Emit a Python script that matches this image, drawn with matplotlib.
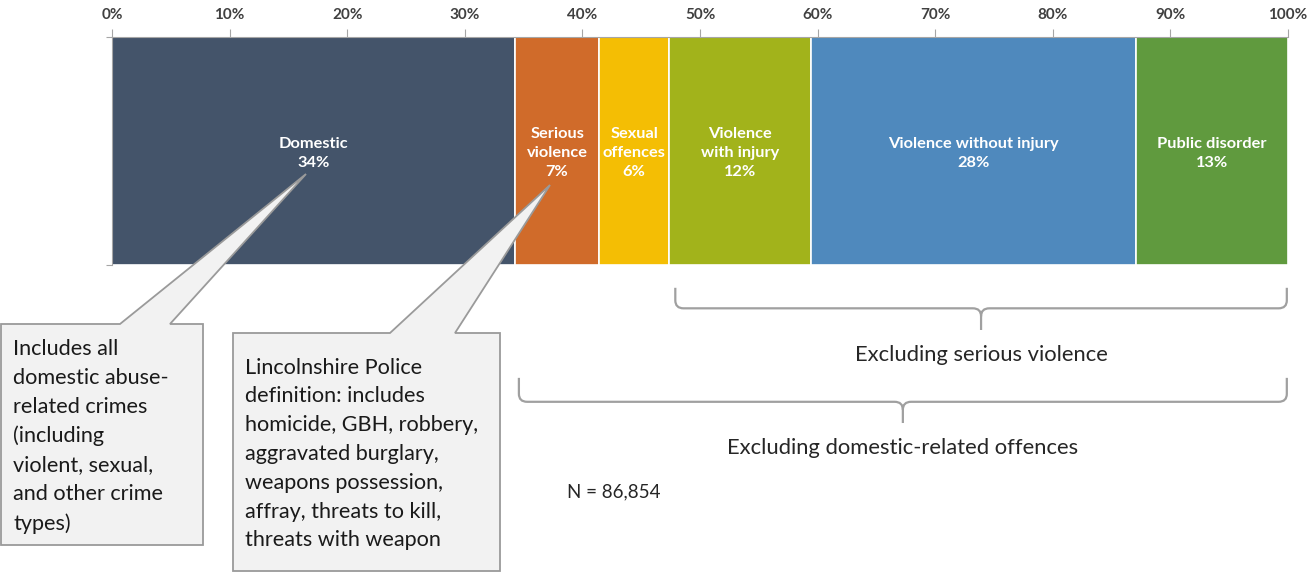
import numpy as np
import matplotlib.pyplot as plt
from matplotlib.path import Path
from matplotlib.patches import PathPatch, Polygon
import matplotlib.transforms as mtransforms

plt.rcParams['font.family'] = ['Lato', 'DejaVu Sans']

# data
categories = ['Domestic', 'Serious\nviolence', 'Sexual\noffences', 'Violence\nwith injury',
              'Violence without injury', 'Public disorder']
shares = [34.3, 7.1, 6.0, 12.0, 27.7, 12.9]
share_labels = ['34%', '7%', '6%', '12%', '28%', '13%']
colors = ['#44546a', '#d06b2a', '#f4be04', '#a2b31b', '#4f89bd', '#609a3e']
n_total = '86,854'

box_notes = ['Includes all\ndomestic abuse-\nrelated crimes\n(including\nviolent, sexual,\nand other crime\ntypes)',
             'Lincolnshire Police\ndefinition: includes\nhomicide, GBH, robbery,\naggravated burglary,\nweapons possession,\naffray, threats to kill,\nthreats with weapon']

W, H = 1310, 572
fig = plt.figure(figsize=(W / 100, H / 100), dpi=100)
ax = fig.add_axes([112 / W, 1 - 265 / H, 1176 / W, 228 / H])

lefts = np.concatenate([[0], np.cumsum(shares)[:-1]])
ax.barh(0, shares, left=lefts, height=1, color=colors, edgecolor='white', linewidth=1.2)
for l, s, c, p in zip(lefts, shares, categories, share_labels):
    ax.text(l + s / 2, -0.01, c + '\n' + p, ha='center', va='center', color='white',
            fontsize=11.8, fontweight='bold', linespacing=1.45)

ax.set_xlim(0, 100)
ax.set_ylim(-0.5, 0.5)
ax.xaxis.tick_top()
ax.set_xticks(range(0, 101, 10))
ax.set_xticklabels([f'{v}%' for v in range(0, 101, 10)], fontsize=11, fontweight='bold', color='#404040')
ax.tick_params(axis='x', length=6, color='#a6a6a6', pad=5)
ax.set_yticks([-0.5, 0.5])
ax.set_yticklabels([])
ax.tick_params(axis='y', length=4, color='#a6a6a6')
for side in ['bottom', 'right']:
    ax.spines[side].set_visible(False)
for side in ['top', 'left']:
    ax.spines[side].set_color('#a6a6a6')

# brackets under the bar: x in data, y in axes fraction
trans = mtransforms.blended_transform_factory(ax.transData, ax.transAxes)


def bracket(x0, x1, top, mid, bot, label, ty):
    xc = (x0 + x1) / 2
    rx, ry = 0.7, 0.035
    verts = [(x0, top), (x0, mid + ry), (x0, mid), (x0 + rx, mid), (xc - rx, mid),
             (xc, mid), (xc, mid - ry), (xc, bot),
             (xc, mid - ry), (xc, mid), (xc + rx, mid), (x1 - rx, mid),
             (x1, mid), (x1, mid + ry), (x1, top)]
    codes = [Path.MOVETO, Path.LINETO, Path.CURVE3, Path.CURVE3, Path.LINETO,
             Path.CURVE3, Path.CURVE3, Path.LINETO,
             Path.MOVETO, Path.CURVE3, Path.CURVE3, Path.LINETO,
             Path.CURVE3, Path.CURVE3, Path.LINETO]
    ax.add_patch(PathPatch(Path(verts, codes), transform=trans, fill=False,
                           edgecolor='#a0a0a0', linewidth=1.6, clip_on=False))
    ax.text(xc, ty, label, transform=trans, ha='center', va='center', fontsize=15.8, color='#262626')


bracket(lefts[3] + 0.5, 99.9, -0.10, -0.19, -0.285, 'Excluding serious violence', -0.395)
bracket(lefts[1] + 0.3, 99.9, -0.495, -0.60, -0.693, 'Excluding domestic-related offences', -0.803)
ax.text(38.7, -0.995, 'N = ' + n_total, transform=trans, ha='left', va='center', fontsize=13.5, color='#262626')

# callout boxes (overlay in pixel space)
ov = fig.add_axes([0, 0, 1, 1], zorder=5)
ov.set_xlim(0, W)
ov.set_ylim(H, 0)
ov.axis('off')

callouts = [
    # box x0, x1, y0, y1, base left, base right, tip
    (1, 203, 324, 545, 120, 170, (306, 174)),
    (233, 500, 333, 571, 390, 455, (550, 185)),
]
for (x0, x1, y0, y1, b0, b1, tip), note in zip(callouts, box_notes):
    pts = [(x0, y0), (b0, y0), tip, (b1, y0), (x1, y0), (x1, y1), (x0, y1)]
    ov.add_patch(Polygon(pts, closed=True, facecolor='#f2f2f2', edgecolor='#9a9a9a', linewidth=1.3))
    ov.text(x0 + 12, (y0 + y1) / 2 + 2, note, ha='left', va='center', fontsize=15.6,
            color='#1a1a1a', linespacing=1.55)

fig.savefig('out.png', dpi=100)
